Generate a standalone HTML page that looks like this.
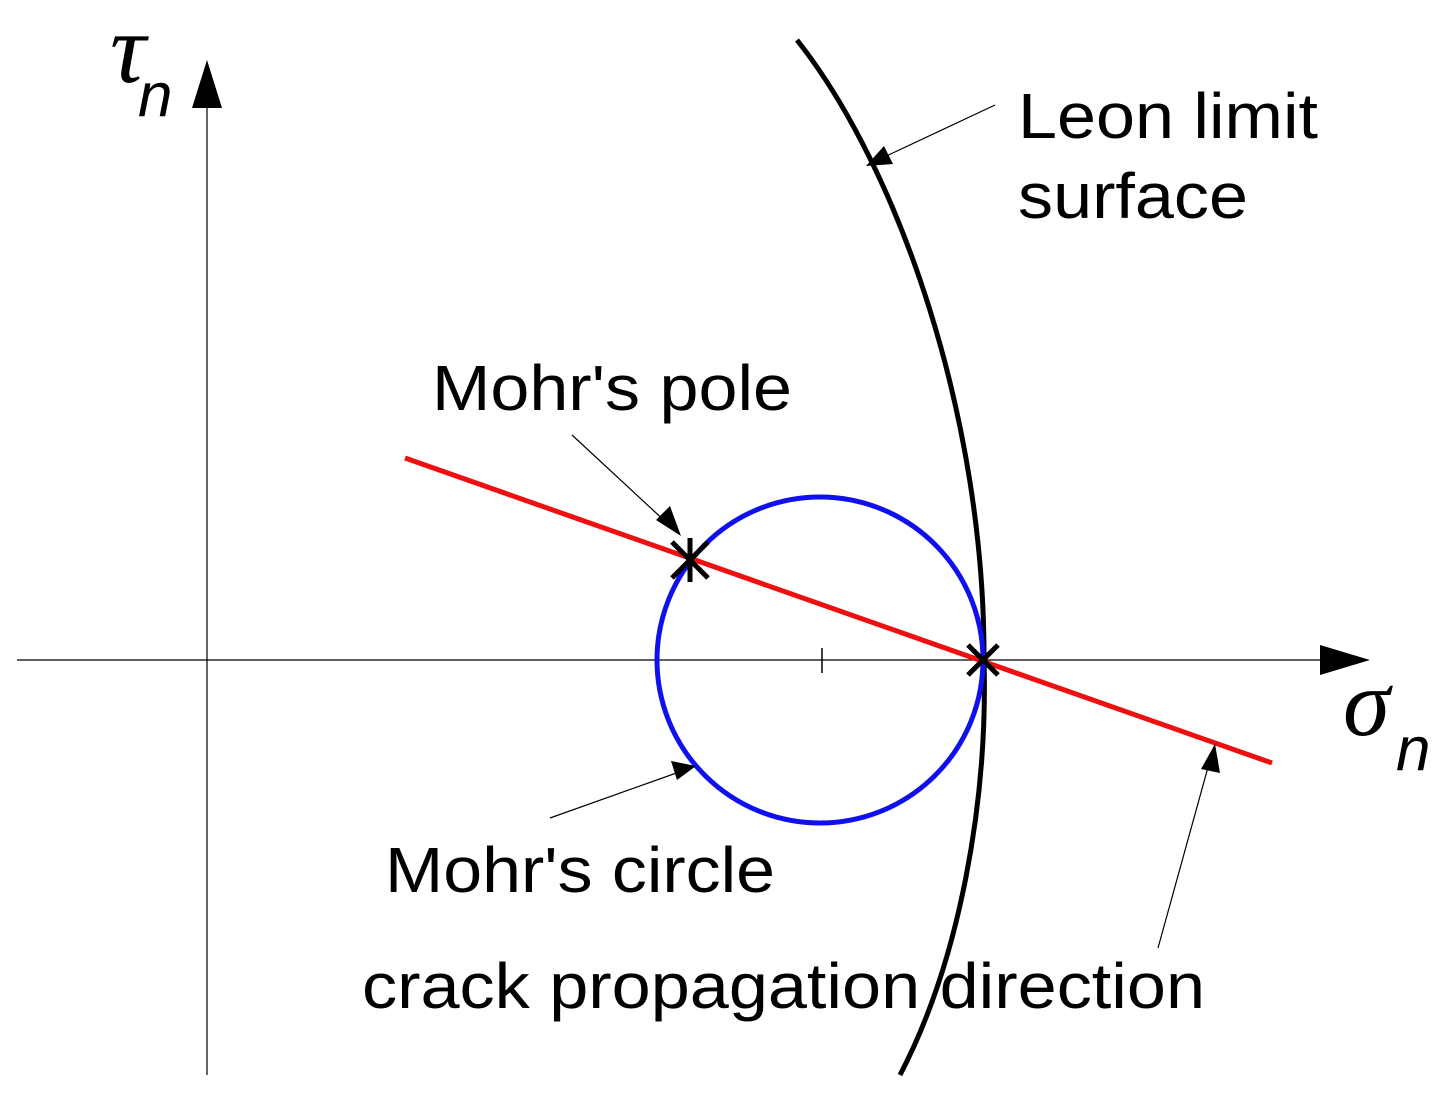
<!DOCTYPE html>
<html><head><meta charset="utf-8"><style>
html,body{margin:0;padding:0;background:#fff;}
svg{display:block;}
</style></head><body>
<svg width="1446" height="1097" viewBox="0 0 1446 1097" xmlns="http://www.w3.org/2000/svg">
<!-- axes -->
<line x1="207" y1="1075" x2="207" y2="100" stroke="#000" stroke-width="1.2"/>
<polygon points="207,60 192,108 222,108" fill="#000"/>
<line x1="17" y1="660" x2="1330" y2="660" stroke="#000" stroke-width="1.2"/>
<polygon points="1370,660 1320,645 1320,675" fill="#000"/>
<line x1="822" y1="648" x2="822" y2="673" stroke="#000" stroke-width="1.5"/>
<text x="110" y="82" font-family="Liberation Serif, serif" font-style="italic" font-size="100">τ</text>
<text x="138" y="116" font-family="Liberation Sans, sans-serif" font-style="italic" font-size="62">n</text>
<text x="1343" y="735" font-family="Liberation Serif, serif" font-style="italic" font-size="95">σ</text>
<text x="1396" y="770" font-family="Liberation Sans, sans-serif" font-style="italic" font-size="62">n</text>
<!-- Leon curve -->
<path d="M797,40 C900,170 985,420 984,660 C988,800 960,960 900,1075" fill="none" stroke="#000" stroke-width="5"/>
<!-- circle -->
<circle cx="820" cy="660" r="163" fill="none" stroke="#1010ee" stroke-width="5"/>
<!-- red line -->
<line x1="405" y1="458" x2="1272" y2="763" stroke="#ee1010" stroke-width="5"/>
<!-- crosses -->
<g stroke="#000" stroke-width="5">
<line x1="672" y1="542" x2="708" y2="578"/><line x1="708" y1="542" x2="672" y2="578"/>
<line x1="690" y1="538" x2="690" y2="582"/>
<line x1="968" y1="645" x2="998" y2="675"/><line x1="998" y1="645" x2="968" y2="675"/>
</g>
<!-- leader arrows -->
<g stroke="#000" stroke-width="1.2">
<line x1="995" y1="105" x2="880" y2="159"/>
<line x1="572" y1="435" x2="668" y2="524"/>
<line x1="550" y1="818" x2="682" y2="771"/>
<line x1="1158" y1="948" x2="1210" y2="760"/>
</g>
<polygon points="866,166 884,146 893,164" fill="#000"/>
<polygon points="681,536 656,520 670,506" fill="#000"/>
<polygon points="696,766 671,761 677,780" fill="#000"/>
<polygon points="1215,744 1201,769 1220,773" fill="#000"/>
<!-- labels -->
<g font-family="Liberation Sans, sans-serif" font-size="64" fill="#000">
<text x="1018" y="138" textLength="300" lengthAdjust="spacingAndGlyphs">Leon limit</text>
<text x="1018" y="218" textLength="230" lengthAdjust="spacingAndGlyphs">surface</text>
<text x="432" y="410" textLength="360" lengthAdjust="spacingAndGlyphs">Mohr's pole</text>
<text x="385" y="892" textLength="390" lengthAdjust="spacingAndGlyphs">Mohr's circle</text>
<text x="362" y="1008" textLength="843" lengthAdjust="spacingAndGlyphs">crack propagation direction</text>
</g>
</svg>
</body></html>
